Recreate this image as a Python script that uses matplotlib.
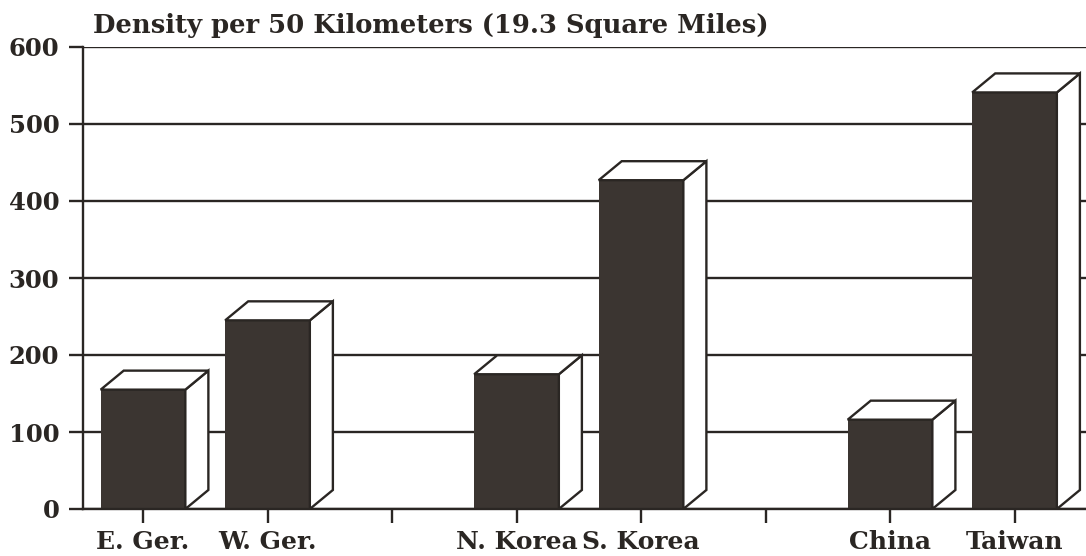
import matplotlib
matplotlib.use("Agg")
import matplotlib.pyplot as plt
from matplotlib.patches import Polygon

# Population density values by country
countries = ["E. Ger.", "W. Ger.", "", "N. Korea", "S. Korea", "", "China", "Taiwan"]
density = [155, 245, None, 175, 427, None, 116, 541]
y_ticks = [0, 100, 200, 300, 400, 500, 600]
title = "Density per 50 Kilometers (19.3 Square Miles)"

FRONT = "#3b3531"
INK = "#2a2623"
FONT = "DejaVu Serif"

fig = plt.figure(figsize=(10.86, 5.56), dpi=100)
ax = fig.add_axes([83 / 1086, 47 / 556, 1 - 83 / 1086, 462 / 556])

ax.set_xlim(-0.482, 7.574)
ax.set_ylim(0, 600)

width = 0.68
dx, dy = 0.185, 24.7  # depth offset of the 3-D bars

for i, v in enumerate(density):
    if v is None:
        continue
    x0, x1 = i - width / 2, i + width / 2
    ax.bar(i, v, width=width, color=FRONT, edgecolor=FRONT, linewidth=0, zorder=3)
    top = Polygon([(x0, v), (x0 + dx, v + dy), (x1 + dx, v + dy), (x1, v)],
                  closed=True, facecolor="white", edgecolor=INK, linewidth=1.7,
                  joinstyle="miter", zorder=4)
    side = Polygon([(x1, 0), (x1 + dx, dy), (x1 + dx, v + dy), (x1, v)],
                   closed=True, facecolor="white", edgecolor=INK, linewidth=1.7,
                   joinstyle="miter", zorder=4)
    ax.add_patch(side)
    ax.add_patch(top)

ax.set_yticks(y_ticks)
ax.set_yticklabels([str(t) for t in y_ticks])
ax.set_xticks(range(len(countries)))
ax.set_xticklabels(countries)

ax.grid(axis="y", color=INK, linewidth=1.7, zorder=1)
ax.set_axisbelow(True)

for s in ["top", "right"]:
    ax.spines[s].set_visible(False)
ax.spines["left"].set_color(INK)
ax.spines["left"].set_linewidth(1.7)
ax.spines["bottom"].set_color(INK)
ax.spines["bottom"].set_linewidth(1.7)
ax.spines["bottom"].set_zorder(5)

ax.tick_params(axis="y", length=10, width=1.7, color=INK, pad=7,
               labelsize=17.5, labelcolor=INK)
ax.tick_params(axis="x", length=10, width=1.7, color=INK, pad=5,
               labelsize=18, labelcolor=INK)
for lab in ax.get_xticklabels() + ax.get_yticklabels():
    lab.set_fontfamily(FONT)
    lab.set_fontweight("bold")

fig.text(93 / 1086, 1 - 25 / 556, title, fontfamily=FONT, fontweight="bold",
         fontsize=18.6, color=INK, ha="left", va="center")

fig.savefig("out.png", dpi=100, facecolor="white")
